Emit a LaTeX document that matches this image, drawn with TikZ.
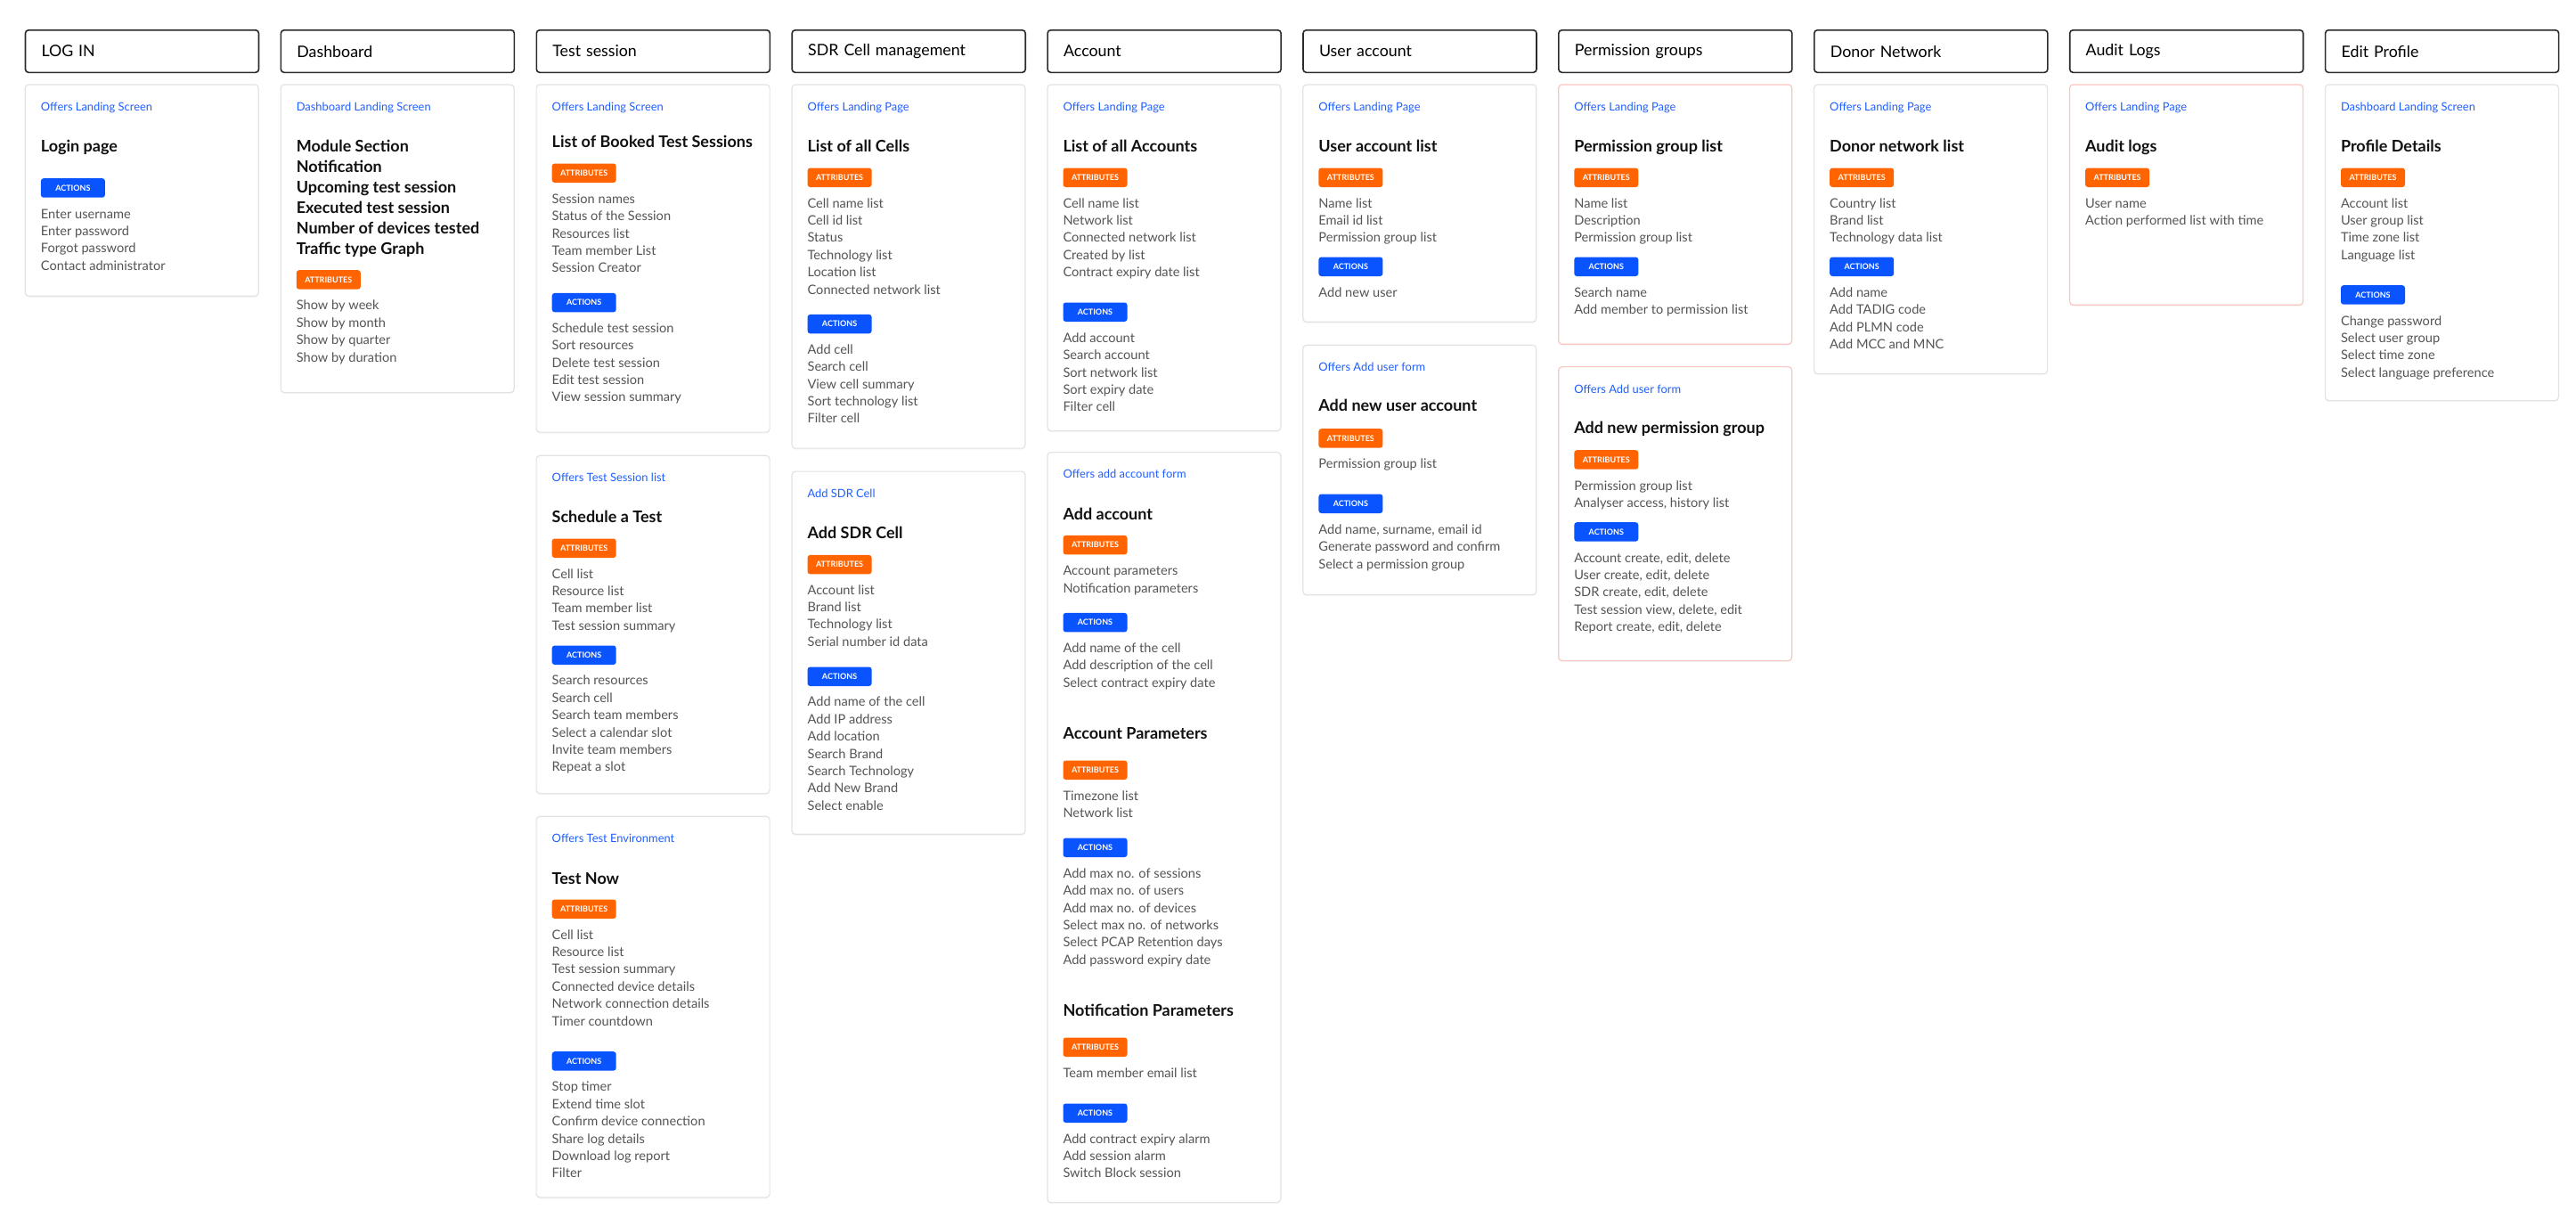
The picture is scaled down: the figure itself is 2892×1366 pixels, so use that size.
\documentclass[tikz,border=0pt]{standalone}
\usepackage{fontspec}
\setmainfont{Lato}
\usetikzlibrary{shadows}
\definecolor{hdrline}{HTML}{2B2B2B}
\definecolor{cardline}{HTML}{E3E3E3}
\definecolor{pinkline}{HTML}{FBC6BF}
\definecolor{lblblue}{HTML}{1F5FFF}
\definecolor{actblue}{HTML}{0A54FF}
\definecolor{attrorange}{HTML}{FF6400}
\definecolor{itemgray}{HTML}{555555}
\definecolor{ttlblack}{HTML}{111111}
\tikzset{
  hdrbox/.style={draw=hdrline, line width=1.6pt, rounded corners=3.5pt, minimum width=262pt, minimum height=47.5pt, anchor=north west, text width=226pt, inner xsep=18pt, inner ysep=0pt, align=left, font=\fontsize{17.8}{20}\selectfont, text=black, fill=white},
  cardbox/.style={draw=cardline, line width=1.2pt, rounded corners=4pt, minimum width=262pt, anchor=north west, fill=white, inner sep=0pt, drop shadow={shadow xshift=0pt, shadow yshift=-1.5pt, opacity=0.07}},
  pinkcard/.style={cardbox, draw=pinkline},
  lbltxt/.style={anchor=base west, inner sep=0pt, text=lblblue, font=\fontsize{12.9}{14}\selectfont},
  ttltxt/.style={anchor=base west, inner sep=0pt, text=ttlblack, font=\fontsize{18}{21}\selectfont\bfseries},
  itmtxt/.style={anchor=base west, inner sep=0pt, text=itemgray, font=\fontsize{14.6}{17}\selectfont},
  badge/.style={anchor=north west, minimum width=72pt, minimum height=21.5pt, inner sep=0pt, rounded corners=3pt, text=white, font=\fontsize{9}{10}\selectfont\bfseries},
  attrbadge/.style={badge, fill=attrorange},
  actbadge/.style={badge, fill=actblue},
}
\newcommand\mycard[5]{\node[#5, minimum height={#4-#3}] (#1) at (#2,#3) {};}
\newcommand\mylbl[4]{\node[lbltxt] (#1) at (#2,{#3+4.6}) {#4};}
\newcommand\myttl[4]{\node[ttltxt] (#1) at (#2,{#3+6.4}) {#4};}
\newcommand\myattr[3]{\node[attrbadge] (#1) at (#2,#3) {ATTRIBUTES};}
\newcommand\myact[3]{\node[actbadge] (#1) at (#2,#3) {ACTIONS};}
\newcommand\mylist[4]{\foreach \t [count=\i] in {#4} {\node[itmtxt] (#1-\i) at (#2,{#3+5.2+(\i-1)*19.37}) {\t};}}
\newcommand\myttls[4]{\foreach \t [count=\i] in {#4} {\node[ttltxt] (#1-\i) at (#2,{#3+6.4+(\i-1)*23}) {\t};}}
\begin{document}
\begin{tikzpicture}[x=1pt,y=-1pt]
\useasboundingbox[fill=white] (0,0) rectangle (2892,1366);
% headers
\node[hdrbox] (h0) at (27.7,33) {LOG IN};
\node[hdrbox] (h1) at (314.6,33) {Dashboard};
\node[hdrbox] (h2) at (601.5,33) {Test session};
\node[hdrbox] (h3) at (888.4,33) {SDR Cell management};
\node[hdrbox] (h4) at (1175.3,33) {Account};
\node[hdrbox] (h5) at (1462.2,33) {User account};
\node[hdrbox] (h6) at (1749.1,33) {Permission groups};
\node[hdrbox] (h7) at (2036.0,33) {Donor Network};
\node[hdrbox] (h8) at (2322.9,33) {Audit Logs};
\node[hdrbox] (h9) at (2609.8,33) {Edit Profile};
% col 0 LOG IN
\mycard{c0a}{27.7}{94.3}{331.7}{cardbox}
\mylbl{c0a-l}{45.7}{120}{Offers Landing Screen}
\myttl{c0a-t}{45.7}{164}{Login page}
\myact{c0a-act}{45.7}{200}
\mylist{c0a-ai}{45.7}{240}{Enter username,Enter password,Forgot password,Contact administrator}
% col 1 Dashboard
\mycard{c1a}{314.6}{94.3}{440}{cardbox}
\mylbl{c1a-l}{332.6}{120}{Dashboard Landing Screen}
\myttls{c1a-t}{332.6}{164.3}{Module Section,Notification,Upcoming test session,Executed test session,Number of devices tested,Traffic type Graph}
\myattr{c1a-att}{332.6}{303}
\mylist{c1a-ti}{332.6}{342.7}{Show by week,Show by month,Show by quarter,Show by duration}
% col 2 Test session
\mycard{c2a}{601.5}{94.3}{484.5}{cardbox}
\mylbl{c2a-l}{619.5}{120}{Offers Landing Screen}
\myttl{c2a-t}{619.5}{159.3}{List of Booked Test Sessions}
\myattr{c2a-att}{619.5}{183.3}
\mylist{c2a-ti}{619.5}{223.3}{Session names,Status of the Session,Resources list,Team member List,Session Creator}
\myact{c2a-act}{619.5}{328.7}
\mylist{c2a-ai}{619.5}{368.3}{Schedule test session,Sort resources,Delete test session,Edit test session,View session summary}
\mycard{c2b}{601.5}{510.7}{890}{cardbox}
\mylbl{c2b-l}{619.5}{536}{Offers Test Session list}
\myttl{c2b-t}{619.5}{580}{Schedule a Test}
\myattr{c2b-att}{619.5}{604.3}
\mylist{c2b-ti}{619.5}{644}{Cell list,Resource list,Team member list,Test session summary}
\myact{c2b-act}{619.5}{724.3}
\mylist{c2b-ai}{619.5}{763.7}{Search resources,Search cell,Search team members,Select a calendar slot,Invite team members,Repeat a slot}
\mycard{c2c}{601.5}{915.7}{1343.3}{cardbox}
\mylbl{c2c-l}{619.5}{941.3}{Offers Test Environment}
\myttl{c2c-t}{619.5}{985.7}{Test Now}
\myattr{c2c-att}{619.5}{1009.3}
\mylist{c2c-ti}{619.5}{1049}{Cell list,Resource list,Test session summary,Connected device details,Network connection details,Timer countdown}
\myact{c2c-act}{619.5}{1180}
\mylist{c2c-ai}{619.5}{1219.7}{Stop timer,Extend time slot,Confirm device connection,Share log details,Download log report,Filter}
% col 3 SDR
\mycard{c3a}{888.4}{94.3}{502.5}{cardbox}
\mylbl{c3a-l}{906.4}{120}{Offers Landing Page}
\myttl{c3a-t}{906.4}{164.3}{List of all Cells}
\myattr{c3a-att}{906.4}{188.3}
\mylist{c3a-ti}{906.4}{228}{Cell name list,Cell id list,Status,Technology list,Location list,Connected network list}
\myact{c3a-act}{906.4}{352.7}
\mylist{c3a-ai}{906.4}{392.3}{Add cell,Search cell,View cell summary,Sort technology list,Filter cell}
\mycard{c3b}{888.4}{528.5}{935.7}{cardbox}
\mylbl{c3b-l}{906.4}{554}{Add SDR Cell}
\myttl{c3b-t}{906.4}{598}{Add SDR Cell}
\myattr{c3b-att}{906.4}{622.7}
\mylist{c3b-ti}{906.4}{662}{Account list,Brand list,Technology list,Serial number id data}
\myact{c3b-act}{906.4}{748.3}
\mylist{c3b-ai}{906.4}{787.7}{Add name of the cell,Add IP address,Add location,Search Brand,Search Technology,Add New Brand,Select enable}
% col 4 Account
\mycard{c4a}{1175.3}{94.3}{483}{cardbox}
\mylbl{c4a-l}{1193.3}{120}{Offers Landing Page}
\myttl{c4a-t}{1193.3}{164.3}{List of all Accounts}
\myattr{c4a-att}{1193.3}{188.3}
\mylist{c4a-ti}{1193.3}{228}{Cell name list,Network list,Connected network list,Created by list,Contract expiry date list}
\myact{c4a-act}{1193.3}{339.3}
\mylist{c4a-ai}{1193.3}{379.3}{Add account,Search account,Sort network list,Sort expiry date,Filter cell}
\mycard{c4b}{1175.3}{507}{1349}{cardbox}
\mylbl{c4b-l}{1193.3}{532.3}{Offers add account form}
\myttl{c4b-t}{1193.3}{576.7}{Add account}
\myattr{c4b-att}{1193.3}{600.7}
\mylist{c4b-ti}{1193.3}{640.7}{Account parameters,Notification parameters}
\myact{c4b-act}{1193.3}{687.7}
\mylist{c4b-ai}{1193.3}{727.3}{Add name of the cell,Add description of the cell,Select contract expiry date}
\myttl{c4b-t2}{1193.3}{823.3}{Account Parameters}
\myattr{c4b-att2}{1193.3}{853.3}
\mylist{c4b-ti2}{1193.3}{893.3}{Timezone list,Network list}
\myact{c4b-act2}{1193.3}{940.3}
\mylist{c4b-ai2}{1193.3}{980.3}{Add max no. of sessions,Add max no. of users,Add max no. of devices,Select max no. of networks,Select PCAP Retention days,Add password expiry date}
\myttl{c4b-t3}{1193.3}{1134.3}{Notification Parameters}
\myattr{c4b-att3}{1193.3}{1164.3}
\mylist{c4b-ti3}{1193.3}{1204}{Team member email list}
\myact{c4b-act3}{1193.3}{1238.3}
\mylist{c4b-ai3}{1193.3}{1278}{Add contract expiry alarm,Add session alarm,Switch Block session}
% col 5 User account
\mycard{c5a}{1462.2}{94.3}{360.7}{cardbox}
\mylbl{c5a-l}{1480.2}{120}{Offers Landing Page}
\myttl{c5a-t}{1480.2}{164.3}{User account list}
\myattr{c5a-att}{1480.2}{188.3}
\mylist{c5a-ti}{1480.2}{228}{Name list,Email id list,Permission group list}
\myact{c5a-act}{1480.2}{288.3}
\mylist{c5a-ai}{1480.2}{328.3}{Add new user}
\mycard{c5b}{1462.2}{386.7}{667}{cardbox}
\mylbl{c5b-l}{1480.2}{412.3}{Offers Add user form}
\myttl{c5b-t}{1480.2}{455.5}{Add new user account}
\myattr{c5b-att}{1480.2}{481}
\mylist{c5b-ti}{1480.2}{520.7}{Permission group list}
\myact{c5b-act}{1480.2}{554.3}
\mylist{c5b-ai}{1480.2}{594.3}{{Add name, surname, email id},Generate password and confirm,Select a permission group}
% col 6 Permission groups
\mycard{c6a}{1749.1}{94.3}{385.7}{pinkcard}
\mylbl{c6a-l}{1767.1}{120}{Offers Landing Page}
\myttl{c6a-t}{1767.1}{164.3}{Permission group list}
\myattr{c6a-att}{1767.1}{188.3}
\mylist{c6a-ti}{1767.1}{228}{Name list,Description,Permission group list}
\myact{c6a-act}{1767.1}{288.3}
\mylist{c6a-ai}{1767.1}{328.3}{Search name,Add member to permission list}
\mycard{c6b}{1749.1}{411}{741}{pinkcard}
\mylbl{c6b-l}{1767.1}{436.7}{Offers Add user form}
\myttl{c6b-t}{1767.1}{480}{Add new permission group}
\myattr{c6b-att}{1767.1}{505}
\mylist{c6b-ti}{1767.1}{545}{Permission group list,{Analyser access, history list}}
\myact{c6b-act}{1767.1}{586}
\mylist{c6b-ai}{1767.1}{626}{{Account create, edit, delete},{User create, edit, delete},{SDR create, edit, delete},{Test session view, delete, edit},{Report create, edit, delete}}
% col 7 Donor Network
\mycard{c7a}{2036.0}{94.3}{419}{cardbox}
\mylbl{c7a-l}{2054.0}{120}{Offers Landing Page}
\myttl{c7a-t}{2054.0}{164.3}{Donor network list}
\myattr{c7a-att}{2054.0}{188.3}
\mylist{c7a-ti}{2054.0}{228}{Country list,Brand list,Technology data list}
\myact{c7a-act}{2054.0}{288.3}
\mylist{c7a-ai}{2054.0}{328.3}{Add name,Add TADIG code,Add PLMN code,Add MCC and MNC}
% col 8 Audit Logs
\mycard{c8a}{2322.9}{94.3}{341.7}{pinkcard}
\mylbl{c8a-l}{2340.9}{120}{Offers Landing Page}
\myttl{c8a-t}{2340.9}{164.3}{Audit logs}
\myattr{c8a-att}{2340.9}{188.3}
\mylist{c8a-ti}{2340.9}{228}{User name,Action performed list with time}
% col 9 Edit Profile
\mycard{c9a}{2609.8}{94.3}{449}{cardbox}
\mylbl{c9a-l}{2627.8}{120}{Dashboard Landing Screen}
\myttl{c9a-t}{2627.8}{164.3}{Profile Details}
\myattr{c9a-att}{2627.8}{188.3}
\mylist{c9a-ti}{2627.8}{228}{Account list,User group list,Time zone list,Language list}
\myact{c9a-act}{2627.8}{320}
\mylist{c9a-ai}{2627.8}{360}{Change password,Select user group,Select time zone,Select language preference}
\end{tikzpicture}
\end{document}
